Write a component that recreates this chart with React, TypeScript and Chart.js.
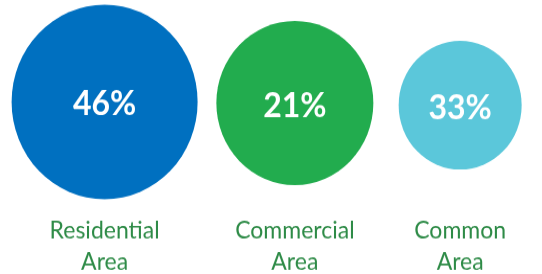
import React, { useEffect, useRef } from "react";
import { Chart, registerables } from "chart.js";

Chart.register(...registerables);

const categories = [["Residential", "Area"], ["Commercial", "Area"], ["Common", "Area"]];
const shares = [46, 21, 33];
const xPositions = [1.93, 5.44, 8.49];
const yPositions = [0.628, 0.624, 0.616];
const bubbleRadii = [93, 78.5, 61.5];
const colors = ["#0070C0", "#22AC4E", "#5BC7DA"];

const labelsPlugin = {
  id: "labelsPlugin",
  afterDatasetsDraw(chart: any) {
    const ctx = chart.ctx;
    const meta = chart.getDatasetMeta(0);
    const yScale = chart.scales.y;
    ctx.save();
    ctx.textAlign = "center";
    ctx.textBaseline = "alphabetic";
    meta.data.forEach((el: any, i: number) => {
      ctx.fillStyle = "#FFFFFF";
      ctx.font = "bold 32px Lato";
      ctx.fillText(shares[i] + "%", el.x, el.y + 13);
      ctx.fillStyle = "#2E8B47";
      ctx.font = "23px Lato";
      const line1 = yScale.getPixelForValue(0.131);
      const line2 = yScale.getPixelForValue(0.015);
      ctx.fillText(categories[i][0], el.x, line1);
      ctx.fillText(categories[i][1], el.x, line2);
    });
    ctx.restore();
  },
};

export default function App() {
  const ref = useRef<HTMLCanvasElement>(null);
  useEffect(() => {
    document.body.style.margin = "0";
    const chart = new Chart(ref.current!, {
      type: "bubble",
      data: {
        datasets: [
          {
            data: shares.map((v, i) => ({ x: xPositions[i], y: yPositions[i], r: bubbleRadii[i] })),
            backgroundColor: colors,
            borderWidth: 0,
            hoverRadius: 0,
            clip: false,
          } as any,
        ],
      },
      options: {
        animation: false,
        responsive: false,
        devicePixelRatio: 1,
        layout: { padding: 0, autoPadding: false },
        plugins: { legend: { display: false }, tooltip: { enabled: false } },
        scales: {
          x: { type: "linear", display: false, min: 0, max: 10 },
          y: { type: "linear", display: false, min: 0, max: 1 },
        },
      },
      plugins: [labelsPlugin],
    });
    return () => chart.destroy();
  }, []);
  return (
    <div style={{ width: 542, height: 274 }}>
      <canvas ref={ref} width={542} height={262} style={{ width: "542px", height: "274px", display: "block" }} />
    </div>
  );
}
